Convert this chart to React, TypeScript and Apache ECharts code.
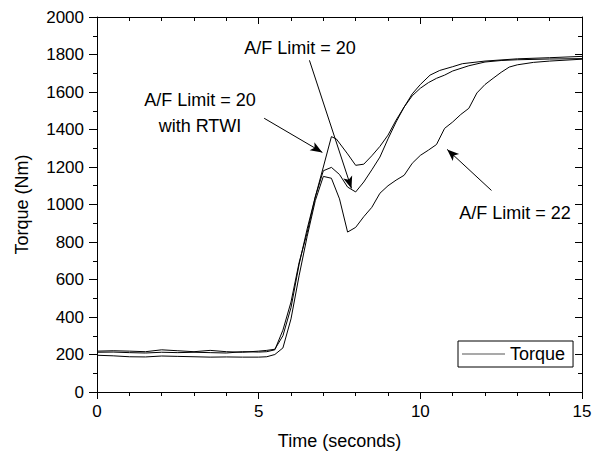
import React, { useEffect, useRef } from "react";
import * as echarts from "echarts";

const rtwiTime = [0, 0.5, 1, 1.5, 2, 2.5, 3, 3.5, 4, 4.5, 5, 5.25, 5.5, 5.75, 6, 6.25, 6.5, 6.75, 7, 7.25, 7.4, 7.75, 8, 8.25, 8.5, 8.75, 9, 9.25, 9.5, 9.75, 10, 10.25, 10.5, 10.75, 11, 11.5, 12, 12.5, 13, 14, 15];
const rtwiTorque = [218, 220, 218, 215, 225, 220, 215, 222, 215, 212, 218, 222, 228, 300, 450, 680, 870, 1040, 1200, 1362, 1350, 1270, 1209, 1215, 1260, 1310, 1370, 1450, 1520, 1580, 1620, 1650, 1673, 1690, 1712, 1740, 1760, 1768, 1772, 1776, 1778];

const af20Time = [0, 0.5, 1, 1.5, 2, 2.5, 3, 3.5, 4, 4.5, 5, 5.25, 5.5, 5.75, 6, 6.25, 6.5, 6.75, 7, 7.25, 7.5, 7.75, 8, 8.25, 8.5, 8.75, 9, 9.25, 9.5, 9.75, 10, 10.3, 10.6, 11, 11.3, 12, 13, 14, 15];
const af20Torque = [212, 213, 210, 208, 212, 210, 212, 210, 208, 215, 213, 215, 225, 330, 480, 690, 850, 1040, 1180, 1198, 1160, 1093, 1067, 1120, 1185, 1253, 1350, 1440, 1520, 1590, 1640, 1690, 1715, 1735, 1751, 1765, 1777, 1783, 1790];

const af22Time = [0, 0.5, 1, 1.5, 2, 2.5, 3, 3.5, 4, 4.5, 5, 5.25, 5.5, 5.75, 6, 6.25, 6.5, 6.75, 7, 7.25, 7.5, 7.75, 8, 8.25, 8.5, 8.75, 9, 9.25, 9.5, 9.75, 10, 10.25, 10.5, 10.75, 11, 11.25, 11.5, 11.75, 12, 12.25, 12.5, 12.75, 13, 13.5, 14, 15];
const af22Torque = [196, 193, 188, 187, 192, 190, 188, 186, 187, 186, 186, 188, 200, 235, 390, 620, 830, 1020, 1150, 1140, 1030, 853, 878, 935, 985, 1060, 1100, 1130, 1156, 1220, 1262, 1290, 1320, 1406, 1440, 1480, 1513, 1595, 1640, 1673, 1705, 1733, 1745, 1758, 1765, 1775];

// arrow annotations: [from [time, torque], to [time, torque]]
const arrows = [
  [[6.57, 1769], [7.87, 1086]],
  [[5.17, 1460], [6.97, 1278]],
  [[12.2, 1075], [10.83, 1294]],
];

const xRange = [0, 15];
const yRange = [0, 2000];
const seriesName = "Torque";

const FONT = "'Liberation Sans', Arial, Helvetica, sans-serif";

function pairs(t: number[], v: number[]) {
  return t.map((x, i) => [x, v[i]]);
}

export default function App() {
  const ref = useRef<HTMLDivElement>(null);
  useEffect(() => {
    const chart = echarts.init(ref.current!, null, { renderer: "svg" });
    const axisLine = { show: true, onZero: false, lineStyle: { color: "#000", width: 1 } };
    const lineSeries = (data: number[][], withArrows: boolean) => ({
      type: "line",
      name: seriesName,
      data,
      symbol: "none",
      smooth: false,
      lineStyle: { color: "#000", width: 1 },
      itemStyle: { color: "#000" },
      xAxisIndex: 0,
      yAxisIndex: 0,
      markLine: withArrows
        ? {
            silent: true,
            symbol: ["none", "arrow"],
            symbolSize: [7, 12],
            label: { show: false },
            lineStyle: { color: "#000", width: 1, type: "solid" },
            data: arrows.map((a) => [{ coord: a[0] }, { coord: a[1] }]),
          }
        : undefined,
    });
    const option: any = {
      animation: false,
      backgroundColor: "#fff",
      textStyle: { fontFamily: FONT, color: "#000" },
      grid: { left: 97, right: 21, top: 17, bottom: 66 },
      legend: {
        data: [seriesName],
        left: 458,
        top: 341,
        orient: "horizontal",
        icon: "rect",
        borderColor: "#000",
        borderWidth: 1,
        padding: [4, 8, 4, 4],
        itemWidth: 43,
        itemHeight: 1,
        itemGap: 5,
        itemStyle: { color: "#555", borderWidth: 0 },
        textStyle: { fontFamily: FONT, fontSize: 18, color: "#000" },
      },
      xAxis: [
        {
          type: "value",
          min: xRange[0],
          max: xRange[1],
          interval: 5,
          position: "bottom",
          name: "Time (seconds)",
          nameLocation: "middle",
          nameGap: 40,
          nameTextStyle: { fontFamily: FONT, fontSize: 18, color: "#000" },
          axisLine,
          axisTick: { show: true, inside: false, length: 7, lineStyle: { color: "#000" } },
          minorTick: { show: true, splitNumber: 5, length: 4, lineStyle: { color: "#000" } },
          axisLabel: { show: true, margin: 11, fontFamily: FONT, fontSize: 17, color: "#000", formatter: (v: number) => String(v) },
          splitLine: { show: false },
        },
        {
          type: "value",
          min: xRange[0],
          max: xRange[1],
          interval: 5,
          position: "top",
          axisLine,
          axisTick: { show: true, inside: true, length: 7, lineStyle: { color: "#000" } },
          minorTick: { show: true, splitNumber: 5, length: 4, lineStyle: { color: "#000" } },
          axisLabel: { show: false },
          splitLine: { show: false },
        },
      ],
      yAxis: [
        {
          type: "value",
          min: yRange[0],
          max: yRange[1],
          interval: 200,
          position: "left",
          name: "Torque (Nm)",
          nameLocation: "middle",
          nameGap: 66,
          nameRotate: 90,
          nameTextStyle: { fontFamily: FONT, fontSize: 18, color: "#000" },
          axisLine,
          axisTick: { show: true, inside: false, length: 8, lineStyle: { color: "#000" } },
          minorTick: { show: true, splitNumber: 2, length: 4, lineStyle: { color: "#000" } },
          axisLabel: { show: true, margin: 13, fontFamily: FONT, fontSize: 17, color: "#000", formatter: (v: number) => String(v) },
          splitLine: { show: false },
        },
        {
          type: "value",
          min: yRange[0],
          max: yRange[1],
          interval: 200,
          position: "right",
          axisLine,
          axisTick: { show: true, inside: true, length: 7, lineStyle: { color: "#000" } },
          minorTick: { show: true, splitNumber: 2, length: 4, lineStyle: { color: "#000" } },
          axisLabel: { show: false },
          splitLine: { show: false },
        },
      ],
      series: [
        lineSeries(pairs(rtwiTime, rtwiTorque), true),
        lineSeries(pairs(af20Time, af20Torque), false),
        lineSeries(pairs(af22Time, af22Torque), false),
      ],
      graphic: [
        {
          type: "text",
          x: 300,
          y: 48,
          silent: true,
          style: { text: "A/F Limit = 20", fontFamily: FONT, fontSize: 18, fill: "#000", align: "center", verticalAlign: "middle" },
        },
        {
          type: "text",
          x: 200,
          y: 113,
          silent: true,
          style: { text: "A/F Limit = 20\nwith RTWI", fontFamily: FONT, fontSize: 18, lineHeight: 26, fill: "#000", align: "center", verticalAlign: "middle" },
        },
        {
          type: "text",
          x: 515,
          y: 213,
          silent: true,
          style: { text: "A/F Limit = 22", fontFamily: FONT, fontSize: 18, fill: "#000", align: "center", verticalAlign: "middle" },
        },
      ],
    };
    chart.setOption(option);
    return () => chart.dispose();
  }, []);
  return (
    <div
      ref={ref}
      style={{ position: "fixed", left: 0, top: 0, width: 603, height: 458, background: "#fff" }}
    />
  );
}
